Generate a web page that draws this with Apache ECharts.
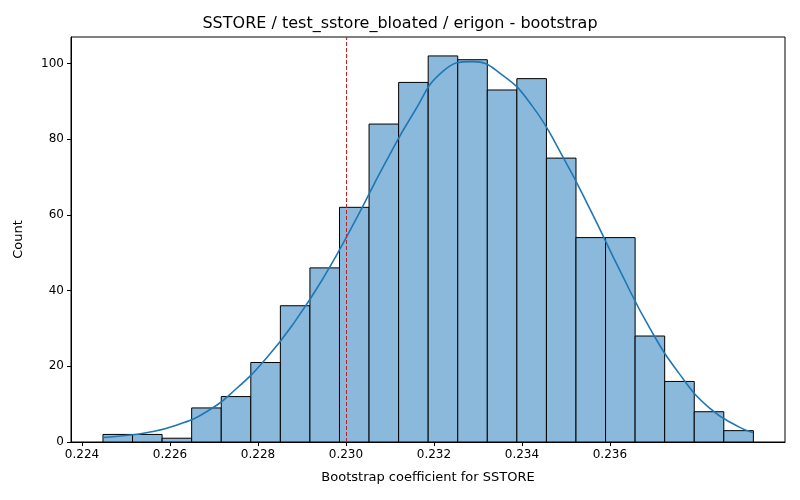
<!DOCTYPE html>
<html>
<head>
<meta charset="utf-8">
<script src="https://cdn.jsdelivr.net/npm/echarts@6/dist/echarts.min.js"></script>
<style>html,body{margin:0;padding:0;background:#fff}#chart{width:800px;height:500px}</style>
</head>
<body>
<div id="chart"></div>
<script>
// histogram bins
const binStart = 0.224477;
const binWidth = 0.000672;
const counts = [2, 2, 1, 9, 12, 21, 36, 46, 62, 84, 95, 102, 101, 93, 96, 75, 54, 54, 28, 16, 8, 3];
// kde curve
const kdeX = [0.22448, 0.22482, 0.22549, 0.22616, 0.22683, 0.2275, 0.22818, 0.22885, 0.22952, 0.23019, 0.23086, 0.23154, 0.23221, 0.23288, 0.23355, 0.23422, 0.2349, 0.23557, 0.23624, 0.23691, 0.23758, 0.23826, 0.23893, 0.23925];
const kdeY = [1.2, 1.5, 2.5, 4.5, 8, 14, 22, 32, 44, 58, 73, 87, 98, 100.5, 97, 89, 76, 61, 45, 30, 18, 9, 4, 2.5];
const meanX = 0.2327;
const xTicks = [0.224, 0.226, 0.228, 0.230, 0.232, 0.234, 0.236];

const bars = counts.map((c, i) => [binStart + i * binWidth, binStart + (i + 1) * binWidth, c]);
const font = 'DejaVu Sans';

const chart = echarts.init(document.getElementById('chart'));
chart.setOption({
  animation: false,
  textStyle: { fontFamily: font },
  title: {
    text: 'SSTORE / test_ssstore_bloated / erigon - bootstrap'.replace('ssstore', 'sstore'),
    left: 'center', top: 11,
    textStyle: { fontFamily: font, fontSize: 16, fontWeight: 'normal', color: '#000' }
  },
  grid: { left: 71, right: 15, top: 37, bottom: 58, show: true, borderColor: '#000', borderWidth: 1 },
  xAxis: {
    type: 'value', min: 0.22375, max: 0.23998,
    name: 'Bootstrap coefficient for SSTORE', nameLocation: 'middle', nameGap: 29,
    nameTextStyle: { fontFamily: font, fontSize: 13, color: '#000' },
    axisLine: { show: true, lineStyle: { color: '#000' } },
    splitLine: { show: false },
    axisTick: { show: true, customValues: xTicks, length: 4, lineStyle: { color: '#000' } },
    axisLabel: { customValues: xTicks, color: '#000', fontSize: 12, margin: 7, formatter: v => v.toFixed(3) }
  },
  yAxis: {
    type: 'value', min: 0, max: 107, interval: 20,
    name: 'Count', nameLocation: 'middle', nameGap: 46, nameRotate: 90,
    nameTextStyle: { fontFamily: font, fontSize: 13, color: '#000' },
    axisLine: { show: true, lineStyle: { color: '#000' } },
    splitLine: { show: false },
    axisTick: { show: true, length: 4, lineStyle: { color: '#000' } },
    axisLabel: { color: '#000', fontSize: 12, margin: 7, showMaxLabel: false }
  },
  series: [
    {
      type: 'custom',
      data: bars,
      encode: { x: [0, 1], y: 2 },
      renderItem: (params, api) => {
        const p0 = api.coord([api.value(0), api.value(2)]);
        const p1 = api.coord([api.value(1), 0]);
        return {
          type: 'rect',
          shape: { x: p0[0], y: p0[1], width: p1[0] - p0[0], height: p1[1] - p0[1] },
          style: { fill: '#8bb9db', stroke: '#000', lineWidth: 1 }
        };
      }
    },
    {
      type: 'line',
      data: kdeX.map((x, i) => [x, kdeY[i]]),
      smooth: true, symbol: 'none',
      lineStyle: { color: '#1f77b4', width: 1.6 },
      markLine: {
        silent: true, symbol: 'none', label: { show: false },
        lineStyle: { color: '#c02020', type: [4, 2], width: 1 },
        data: [{ xAxis: meanX }]
      }
    }
  ]
});
</script>
</body>
</html>
